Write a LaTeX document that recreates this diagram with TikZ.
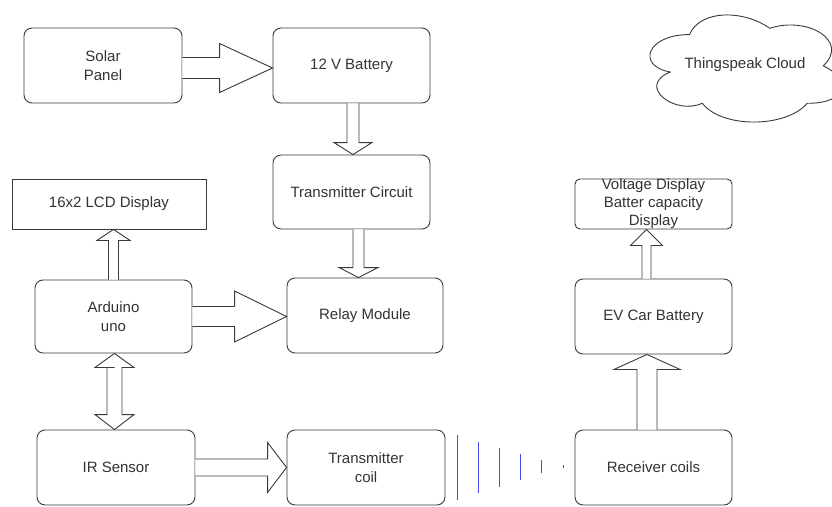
\documentclass[tikz,border=0pt]{standalone}
\usepackage{fontspec}
\setmainfont{Liberation Sans}
\usetikzlibrary{calc}
\definecolor{ln}{HTML}{3A3A3A}
\definecolor{tx}{HTML}{333333}
\definecolor{wave}{HTML}{4A4AF0}
\tikzset{
  rbox/.style={draw=ln, line width=0.9pt, rounded corners=8pt, fill=white, text=tx,
    inner sep=0pt, align=center, font=\fontsize{15}{19}\selectfont},
  sbox/.style={draw=ln, line width=0.9pt, fill=white, text=tx, inner sep=0pt,
    align=center, font=\fontsize{15}{19}\selectfont},
  barr/.style={draw=ln, line width=0.9pt, fill=white, line join=miter},
  wavel/.style={draw=wave, line width=1pt},
}
% start, end, shaft half width, head half width, head length
\newcommand\blockarrow[5]{%
  \path (#1) coordinate (ba-s) (#2) coordinate (ba-e);
  \path ($(ba-e)!#5!(ba-s)$) coordinate (ba-h);
  \draw[barr] ($(ba-s)!#3!90:(ba-e)$) -- ($(ba-h)!#3!-90:(ba-s)$) --
    ($(ba-h)!#4!-90:(ba-s)$) -- (ba-e) -- ($(ba-h)!#4!90:(ba-s)$) --
    ($(ba-h)!#3!90:(ba-s)$) -- ($(ba-s)!#3!-90:(ba-e)$);
}
\begin{document}
\begin{tikzpicture}[x=1pt,y=-1pt]
\useasboundingbox (0,0) rectangle (832,506);
% boxes
\node[rbox, minimum width=158pt, minimum height=75pt] (sp) at (103,65.5) {Solar\\Panel};
\node[rbox, minimum width=157pt, minimum height=75pt] (bat) at (351.5,65.5) {12 V Battery};
\node[rbox, minimum width=157pt, minimum height=74pt] (tc) at (351.5,192) {Transmitter Circuit};
\node[sbox, minimum width=194pt, minimum height=50pt] (lcd) at (109,204) {16x2 LCD Display};
\node[rbox, minimum width=157pt, minimum height=73pt] (ard) at (113.5,316.5) {Arduino\\uno};
\node[rbox, minimum width=156pt, minimum height=75pt] (rel) at (365,315.5) {Relay Module};
\node[rbox, minimum width=158pt, minimum height=75pt] (ir) at (116,467.5) {IR Sensor};
\node[rbox, minimum width=158pt, minimum height=75pt] (tcoil) at (366,467.5) {Transmitter\\coil};
\node[rbox, minimum width=157pt, minimum height=75pt] (rx) at (653.5,467.5) {Receiver coils};
\node[rbox, minimum width=157pt, minimum height=75pt] (ev) at (653.5,316.5) {EV Car Battery};
\node[rbox, rounded corners=5pt, minimum width=157pt, minimum height=50pt] (vd) at (653.5,204) {};
\node[text=tx, align=center, font=\fontsize{15}{18}\selectfont] (vdt) at (vd.center)
  {Voltage Display\\Batter capacity\\Display};
% cloud
\begin{scope}[shift={(636,3.3)}, x=214pt, y=-125pt]
\draw[draw=ln, line width=0.9pt, fill=white]
  (0.25,0.25) .. controls (0.05,0.25) and (0,0.5) .. (0.16,0.55)
  .. controls (0,0.66) and (0.18,0.9) .. (0.31,0.8)
  .. controls (0.4,1) and (0.7,1) .. (0.8,0.8)
  .. controls (1,0.8) and (1,0.6) .. (0.875,0.5)
  .. controls (1,0.3) and (0.8,0.1) .. (0.625,0.2)
  .. controls (0.5,0.05) and (0.3,0.05) .. (0.25,0.25) -- cycle;
\end{scope}
\node[text=tx, font=\fontsize{15}{19}\selectfont] (cloud) at (745,65) {Thingspeak Cloud};
% arrows
\blockarrow{[yshift=-2.5pt]sp.east}{[yshift=-2.5pt]bat.west}{10.5pt}{24.5pt}{53pt}
\blockarrow{[xshift=1.5pt]bat.south}{[xshift=1.5pt]tc.north}{6pt}{19pt}{12pt}
\coordinate (t1) at ([xshift=7pt]tc.south);
\blockarrow{t1}{t1 |- rel.north}{5.5pt}{19.5pt}{10pt}
\blockarrow{ard.north}{ard.north |- lcd.south}{5pt}{16.5pt}{11pt}
\blockarrow{ard.east}{ard.east -| rel.west}{10pt}{25.5pt}{52pt}
\blockarrow{ir.east}{tcoil.west}{8.5pt}{25pt}{19pt}
\coordinate (r1) at ([xshift=-6.5pt]rx.north);
\blockarrow{r1}{r1 |- ev.south}{10pt}{33pt}{15pt}
\coordinate (e1) at ([xshift=-7pt]ev.north);
\blockarrow{e1}{e1 |- vd.south}{4.5pt}{16pt}{16pt}
% double arrow Arduino <-> IR
\coordinate (d1) at ([xshift=1pt]ard.south);
\coordinate (d2) at (d1 |- ir.north);
\draw[barr] ($(d1)+(0,14)$) coordinate (dh1) -- ++(-19.5,0) -- (d1) -- ($(dh1)+(19.5,0)$)
  -- ($(dh1)+(7.5,0)$) -- ($(d2)+(7.5,-15)$) -- ($(d2)+(19.5,-15)$) -- (d2)
  -- ($(d2)+(-19.5,-15)$) -- ($(d2)+(-7.5,-15)$) -- ($(dh1)+(-7.5,0)$) -- cycle;
% wireless waves
\draw[wavel] (457,435) -- (457,500);
\draw[wavel] (478,442) -- (478,493);
\draw[wavel] (499,448) -- (499,487);
\draw[wavel] (520,454) -- (520,480);
\draw[wavel] (541,460) -- (541,473);
\draw[wavel] (563,465) -- (563,467.5);
\end{tikzpicture}
\end{document}
